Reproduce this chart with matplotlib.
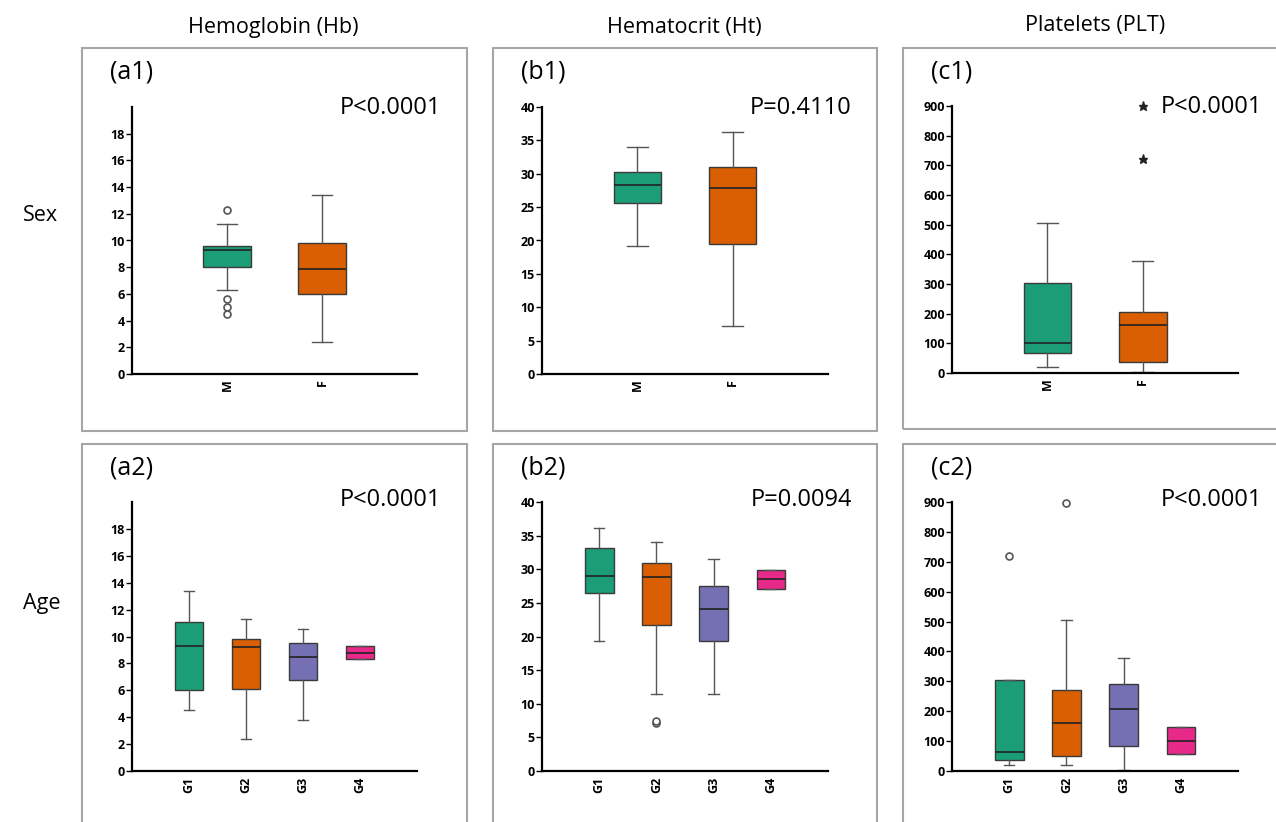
import matplotlib.pyplot as plt
from matplotlib.patches import Rectangle

plt.rcParams["font.family"] = ["Open Sans", "DejaVu Sans"]

sex_groups = ["M", "F"]
age_groups = ["G1", "G2", "G3", "G4"]
colors = ["#1b9e77", "#d95f02", "#7570b3", "#e7298a"]

# (a1) hemoglobin by sex
hb_sex_low = [6.3, 2.4]
hb_sex_q1 = [8.0, 6.0]
hb_sex_med = [9.3, 7.9]
hb_sex_q3 = [9.6, 9.8]
hb_sex_high = [11.2, 13.4]
hb_sex_out = [[12.3, 5.6, 5.0, 4.5], []]

# (b1) hematocrit by sex
ht_sex_low = [19.2, 7.2]
ht_sex_q1 = [25.6, 19.5]
ht_sex_med = [28.3, 27.8]
ht_sex_q3 = [30.2, 31.0]
ht_sex_high = [34.0, 36.2]
ht_sex_out = [[], []]

# (c1) platelets by sex
plt_sex_low = [20, 3]
plt_sex_q1 = [66, 36]
plt_sex_med = [101, 163]
plt_sex_q3 = [304, 205]
plt_sex_high = [505, 379]
plt_sex_out = [[], [899, 721]]

# (a2) hemoglobin by age group
hb_age_low = [4.5, 2.4, 3.8, 8.3]
hb_age_q1 = [6.0, 6.1, 6.8, 8.3]
hb_age_med = [9.3, 9.2, 8.5, 8.8]
hb_age_q3 = [11.1, 9.8, 9.5, 9.3]
hb_age_high = [13.4, 11.3, 10.55, 9.3]
hb_age_out = [[], [], [], []]

# (b2) hematocrit by age group
ht_age_low = [19.3, 11.4, 11.4, 27.0]
ht_age_q1 = [26.5, 21.7, 19.4, 27.0]
ht_age_med = [29.0, 28.8, 24.1, 28.5]
ht_age_q3 = [33.2, 31.0, 27.5, 29.9]
ht_age_high = [36.1, 34.0, 31.5, 29.9]
ht_age_out = [[], [7.2, 7.4], [], []]

# (c2) platelets by age group
plt_age_low = [20, 20, 4, 57]
plt_age_q1 = [37, 49, 83, 57]
plt_age_med = [62, 162, 206, 102]
plt_age_q3 = [305, 272, 292, 146]
plt_age_high = [305, 504, 377, 146]
plt_age_out = [[720], [897], [], []]

W, H = 1276, 822
fig = plt.figure(figsize=(W / 100, H / 100), dpi=100)


def fx(x):
    return x / W


def fy(y):
    return 1 - y / H


def make_stats(low, q1, med, q3, high, out):
    return [dict(whislo=a, q1=b, med=c, q3=d, whishi=e, fliers=f)
            for a, b, c, d, e, f in zip(low, q1, med, q3, high, out)]


panels = [
    # label, p text, stats, groups, ymax, yticks, axes box px (l, t, r, b), frame px, star fliers
    ("(a1)", "P<0.0001",
     make_stats(hb_sex_low, hb_sex_q1, hb_sex_med, hb_sex_q3, hb_sex_high, hb_sex_out),
     sex_groups, 20, range(0, 20, 2), (132, 107, 417, 374), (82, 48, 467, 431), False),
    ("(b1)", "P=0.4110",
     make_stats(ht_sex_low, ht_sex_q1, ht_sex_med, ht_sex_q3, ht_sex_high, ht_sex_out),
     sex_groups, 40, range(0, 41, 5), (542, 107, 828, 374), (493, 48, 877, 431), False),
    ("(c1)", "P<0.0001",
     make_stats(plt_sex_low, plt_sex_q1, plt_sex_med, plt_sex_q3, plt_sex_high, plt_sex_out),
     sex_groups, 900, range(0, 901, 100), (952, 106, 1238, 373), (903, 48, 1290, 429), True),
    ("(a2)", "P<0.0001",
     make_stats(hb_age_low, hb_age_q1, hb_age_med, hb_age_q3, hb_age_high, hb_age_out),
     age_groups, 20, range(0, 20, 2), (132, 502, 417, 771), (82, 444, 467, 840), False),
    ("(b2)", "P=0.0094",
     make_stats(ht_age_low, ht_age_q1, ht_age_med, ht_age_q3, ht_age_high, ht_age_out),
     age_groups, 40, range(0, 41, 5), (542, 502, 828, 771), (493, 444, 877, 840), False),
    ("(c2)", "P<0.0001",
     make_stats(plt_age_low, plt_age_q1, plt_age_med, plt_age_q3, plt_age_high, plt_age_out),
     age_groups, 900, range(0, 901, 100), (952, 502, 1238, 771), (903, 444, 1290, 840), False),
]

for label, ptext, stats, groups, ymax, yticks, box, frame, star in panels:
    l, t, r, b = frame
    fig.patches.append(Rectangle((fx(l), fy(b)), fx(r - l), (b - t) / H,
                                 transform=fig.transFigure, fill=False,
                                 edgecolor="#a6a6a6", linewidth=1.5))
    l, t, r, b = box
    ax = fig.add_axes([fx(l), fy(b), fx(r - l), (b - t) / H])
    n = len(groups)
    if star:
        flier = dict(marker="*", markersize=6.5, markerfacecolor="#222222",
                     markeredgecolor="#222222", linestyle="none")
    else:
        flier = dict(marker="o", markersize=5, markerfacecolor="white",
                     markeredgecolor="#555555", markeredgewidth=1.2, linestyle="none")
    parts = ax.bxp(stats, positions=range(1, n + 1), widths=0.5,
                   capwidths=0.22 if n == 2 else 0.18, patch_artist=True,
                   boxprops=dict(edgecolor="#3a3a3a", linewidth=1.0),
                   medianprops=dict(color="#222222", linewidth=1.2),
                   whiskerprops=dict(color="#555555", linewidth=1.0),
                   capprops=dict(color="#555555", linewidth=1.0),
                   flierprops=flier)
    for patch, c in zip(parts["boxes"], colors):
        patch.set_facecolor(c)
    for fl in parts["fliers"]:
        fl.set_clip_on(False)
    ax.set_xlim(0, n + 1)
    ax.set_ylim(0, ymax)
    ax.set_yticks(list(yticks))
    ax.set_xticks(range(1, n + 1))
    ax.set_xticklabels(groups, rotation=90)
    for s in ["top", "right"]:
        ax.spines[s].set_visible(False)
    for s in ["left", "bottom"]:
        ax.spines[s].set_linewidth(1.6)
    ax.tick_params(axis="y", length=4, width=1, labelsize=9, pad=1)
    ax.tick_params(axis="x", length=0, labelsize=9, pad=4)
    for tl in ax.get_xticklabels() + ax.get_yticklabels():
        tl.set_fontweight("bold")
    fig.text(fx(frame[0] + 28), fy(frame[1] + 24), label, fontsize=18,
             ha="left", va="center")
    fig.text(fx(box[2] + 24), fy(box[1] + 1 if t < 400 else box[1] - 2), ptext,
             fontsize=17, ha="right", va="center")

fig.text(fx(273), fy(28), "Hemoglobin (Hb)", fontsize=15.5, ha="center", va="center")
fig.text(fx(684), fy(28), "Hematocrit (Ht)", fontsize=15.5, ha="center", va="center")
fig.text(fx(1095), fy(25), "Platelets (PLT)", fontsize=15.5, ha="center", va="center")
fig.text(fx(41), fy(215), "Sex", fontsize=15.5, ha="center", va="center")
fig.text(fx(42), fy(603), "Age", fontsize=15.5, ha="center", va="center")

fig.savefig("out.png", dpi=100)
